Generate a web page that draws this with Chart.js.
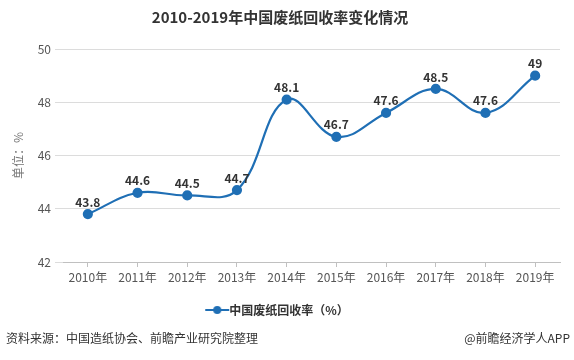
<!DOCTYPE html>
<html><head><meta charset="utf-8">
<script src="https://cdn.jsdelivr.net/npm/chart.js@4/dist/chart.umd.min.js"></script>
<style>
html,body{margin:0;padding:0;background:#fff;}
#wrap{position:relative;width:574px;height:360px;font-family:"Noto Sans CJK SC","Noto Sans",sans-serif;}
#c{position:absolute;left:0;top:0;}
.foot{position:absolute;top:329px;font-size:12px;color:#333;line-height:18px;}
</style></head><body>
<div id="wrap">
<canvas id="c" width="574" height="360"></canvas>
<div class="foot" style="left:6px;">资料来源：中国造纸协会、前瞻产业研究院整理</div>
<div class="foot" style="right:4px;">@前瞻经济学人APP</div>
</div>
<script>
const categories = ["2010年","2011年","2012年","2013年","2014年","2015年","2016年","2017年","2018年","2019年"];
const recoveryRate = [43.8,44.6,44.5,44.7,48.1,46.7,47.6,48.5,47.6,49];
const seriesName = "中国废纸回收率（%）";
const yTicks = [42,44,46,48,50];

const FONT = '"Noto Sans CJK SC","Noto Sans",sans-serif';
const BLUE = '#1f6fb5';

const mk = document.createElement('canvas');
mk.width = 26; mk.height = 12;
(function(){const g=mk.getContext('2d');g.strokeStyle=BLUE;g.lineWidth=2;g.beginPath();g.moveTo(1,6);g.lineTo(25,6);g.stroke();g.fillStyle=BLUE;g.beginPath();g.arc(13,6,4,0,Math.PI*2);g.fill();})();

const labelPlugin = {
  id:'valLabels',
  afterDatasetsDraw(chart){
    const ctx = chart.ctx;
    const meta = chart.getDatasetMeta(0);
    ctx.save();
    ctx.font = 'bold 12px '+FONT;
    ctx.fillStyle = '#333';
    ctx.textAlign = 'center';
    ctx.textBaseline = 'bottom';
    meta.data.forEach((p,i)=>{
      ctx.fillText(String(chart.data.datasets[0].data[i]), p.x, p.y-6);
    });
    ctx.restore();
  }
};

new Chart(document.getElementById('c'),{
  type:'line',
  data:{labels:categories,datasets:[{
    label:seriesName,data:recoveryRate,borderColor:BLUE,backgroundColor:BLUE,
    borderWidth:2.2,tension:0.4,pointRadius:4,pointHoverRadius:4,
    pointBackgroundColor:BLUE,pointBorderColor:BLUE,pointStyle:'circle'
  }]},
  options:{
    responsive:false,animation:false,devicePixelRatio:1,
    layout:{padding:{left:0,right:14,top:0,bottom:34}},
    plugins:{
      title:{display:true,text:'2010-2019年中国废纸回收率变化情况',color:'#333',
        font:{family:FONT,size:15,weight:'bold'},padding:{top:8,bottom:23}},
      legend:{position:'bottom',labels:{usePointStyle:true,pointStyle:mk,color:'#333',
        font:{family:FONT,size:12,weight:'bold'},padding:10}},
      tooltip:{enabled:false}
    },
    scales:{
      x:{offset:true,
        grid:{display:true,drawOnChartArea:false,drawTicks:true,tickLength:5,offset:false,color:'#c0c0c0'},
        border:{color:'#c0c0c0'},
        ticks:{color:'#555',font:{family:FONT,size:12},padding:3,maxRotation:0},
        afterFit(s){s.height=32;}
      },
      y:{min:42,max:50,
        afterBuildTicks(s){s.ticks=yTicks.map(v=>({value:v}));},
        grid:{color:'#dcdcdc',drawTicks:true,tickLength:8},
        border:{display:false},
        ticks:{color:'#555',font:{family:FONT,size:12},padding:4},
        title:{display:true,text:'单位：%',color:'#777',font:{family:FONT,size:12},padding:{top:11,bottom:4}},
        afterFit(s){s.width=63;}
      }
    }
  },
  plugins:[labelPlugin]
});
</script>
</body></html>
